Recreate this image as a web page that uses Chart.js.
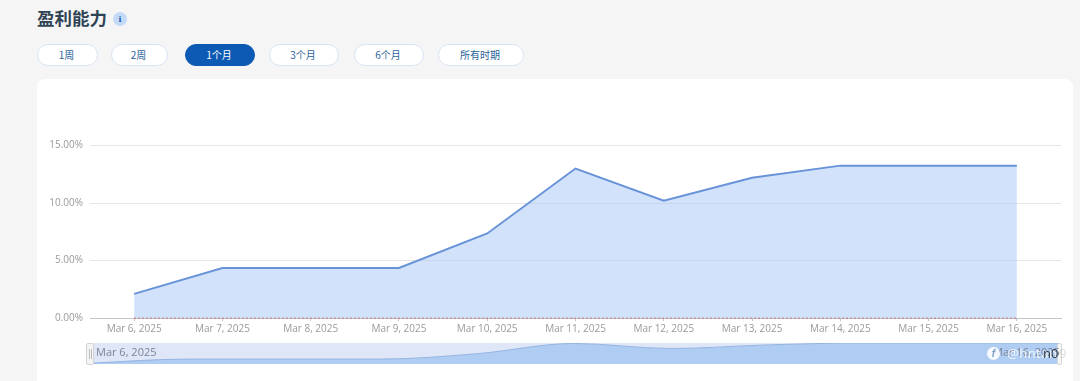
<!DOCTYPE html>
<html lang="zh">
<head>
    <meta charset="UTF-8">
    <title>盈利能力</title>
    <style>
        html, body {
            margin: 0;
            padding: 0;
            width: 1080px;
            height: 381px;
            overflow: hidden;
            background: #f5f5f5;
            font-family: "Noto Sans CJK SC", "Noto Sans", sans-serif;
        }
        h1 {
            position: absolute;
            left: 37px;
            top: 6px;
            margin: 0;
            font-size: 17.5px;
            line-height: 24px;
            font-weight: 700;
            color: #2f4354;
        }
        .info {
            position: absolute;
            left: 113px;
            top: 12px;
            width: 14px;
            height: 14px;
            border-radius: 50%;
            background: #c5daf8;
            color: #1c5fb0;
            font: bold 8px/14px "DejaVu Serif", serif;
            text-align: center;
        }
        .btn {
            position: absolute;
            top: 44px;
            height: 20px;
            border: 1px solid #d8e5f4;
            border-radius: 11px;
            background: #fff;
            color: #2a6299;
            font-size: 10px;
            line-height: 20px;
            text-align: center;
            text-indent: -2px;
        }
        .btn.active {
            background: #0d5ab4;
            border-color: #0d5ab4;
            color: #fff;
        }
        .card {
            position: absolute;
            left: 37px;
            top: 79px;
            width: 1036px;
            height: 310px;
            background: #fff;
            border-radius: 8px;
        }
        #chartMain {
            position: absolute;
            left: 0;
            top: 100px;
        }
        #nav {
            position: absolute;
            left: 90px;
            top: 343px;
            width: 968px;
            height: 21px;
            background: #dfe6f7;
        }
        .handle {
            position: absolute;
            top: 343px;
            height: 22px;
            box-sizing: border-box;
            background: #f4f4f4;
            border: 1px solid #d4d4d4;
            border-radius: 2px;
        }
        .handle i {
            position: absolute;
            top: 5px;
            bottom: 5px;
            width: 1px;
            background: #bdbdbd;
        }
        .navlabel {
            position: absolute;
            top: 344px;
            font: 11px/16px "Open Sans", sans-serif;
            color: #7b8597;
        }
        .mark {
            position: absolute;
            top: 345px;
            font: 13px/16px "Open Sans", sans-serif;
            color: rgba(255,255,255,.85);
            letter-spacing: 0.5px;
        }
        .mark-f {
            position: absolute;
            left: 987px;
            top: 347px;
            width: 13px;
            height: 13px;
            border-radius: 50%;
            background: rgba(255,255,255,.9);
            color: #7d9cc8;
            font: italic bold 10px/13px "Liberation Sans", sans-serif;
            text-align: center;
        }
    </style>
</head>
<body>
    <h1>盈利能力</h1>
    <div class="info">i</div>
    <div class="btn" style="left:37px;width:59px">1周</div>
    <div class="btn" style="left:111px;width:55px">2周</div>
    <div class="btn active" style="left:185px;width:68px">1个月</div>
    <div class="btn" style="left:269px;width:68px">3个月</div>
    <div class="btn" style="left:354px;width:68px">6个月</div>
    <div class="btn" style="left:438px;width:84px">所有时期</div>
    <div class="card"></div>
    <canvas id="chartMain" width="1080" height="240"></canvas>
    <div id="nav"><canvas id="chartNav" width="968" height="21"></canvas></div>
    <div class="handle" style="left:86px;width:8px"><i style="left:2px"></i><i style="left:4px"></i></div>
    <div class="handle" style="left:1057px;width:5px;background:#f8f8f8"></div>
    <div class="navlabel" style="left:96px">Mar 6, 2025</div>
    <div class="navlabel" style="left:993px;color:#7b8597">Mar 16, 2025</div>
    <div class="mark-f">f</div>
    <div class="mark" style="left:1007px">@hntan</div>
    <div class="mark" style="left:1043px;color:#3a3f48;letter-spacing:0">n0</div>
    <div class="mark" style="left:1059px;color:rgba(190,190,190,.5)">9</div>

    <script src="https://cdn.jsdelivr.net/npm/chart.js"></script>
    <script>
        const fechas = ['Mar 6, 2025', 'Mar 7, 2025', 'Mar 8, 2025', 'Mar 9, 2025', 'Mar 10, 2025', 'Mar 11, 2025',
            'Mar 12, 2025', 'Mar 13, 2025', 'Mar 14, 2025', 'Mar 15, 2025', 'Mar 16, 2025'];
        const rentabilidad = [2.1, 4.35, 4.35, 4.35, 7.35, 13.0, 10.2, 12.2, 13.25, 13.25, 13.25];
        const base = [0, 0, 0, 0, 0, 0, 0, 0, 0, 0, 0];

        Chart.defaults.animation = false;
        Chart.defaults.responsive = false;

        // grafica principal
        new Chart(document.getElementById('chartMain'), {
            type: 'line',
            data: {
                labels: fechas,
                datasets: [{
                    data: rentabilidad,
                    borderColor: '#6893d8',
                    borderWidth: 2,
                    backgroundColor: 'rgba(173,203,248,0.55)',
                    fill: 'origin',
                    tension: 0,
                    pointRadius: 0
                }, {
                    data: base,
                    borderColor: '#d9534f',
                    borderWidth: 1,
                    borderDash: [2, 2],
                    pointRadius: 0,
                    clip: 3
                }]
            },
            options: {
                layout: { padding: { top: 45.5, right: 19 } },
                plugins: { legend: { display: false }, tooltip: { enabled: false } },
                scales: {
                    x: {
                        offset: true,
                        afterFit: s => { s.height = 22; },
                        grid: { drawOnChartArea: false, color: '#c4c4c4', tickLength: 3 },
                        border: { color: '#c4c4c4' },
                        ticks: { color: '#9a9a9a', font: { family: 'Open Sans', size: 10 }, padding: 2, maxRotation: 0, autoSkip: false }
                    },
                    y: {
                        min: 0,
                        max: 15,
                        afterFit: s => { s.width = 90; },
                        grid: { color: '#e6e6e6', drawTicks: false },
                        border: { display: false },
                        ticks: {
                            stepSize: 5,
                            padding: 7,
                            color: '#9a9a9a',
                            font: { family: 'Open Sans', size: 10 },
                            callback: v => v.toFixed(2) + '%'
                        }
                    }
                }
            }
        });

        // navegador inferior
        new Chart(document.getElementById('chartNav'), {
            type: 'line',
            data: {
                labels: fechas,
                datasets: [{
                    data: rentabilidad,
                    borderWidth: 1,
                    borderColor: '#94b4e0',
                    backgroundColor: '#afcdf3',
                    fill: 'start',
                    cubicInterpolationMode: 'monotone',
                    pointRadius: 0
                }]
            },
            options: {
                layout: { padding: 0 },
                plugins: { legend: { display: false }, tooltip: { enabled: false } },
                scales: {
                    x: { display: false, offset: false },
                    y: { display: false, min: 1.65, max: 13.25 }
                }
            }
        });
    </script>
</body>
</html>
